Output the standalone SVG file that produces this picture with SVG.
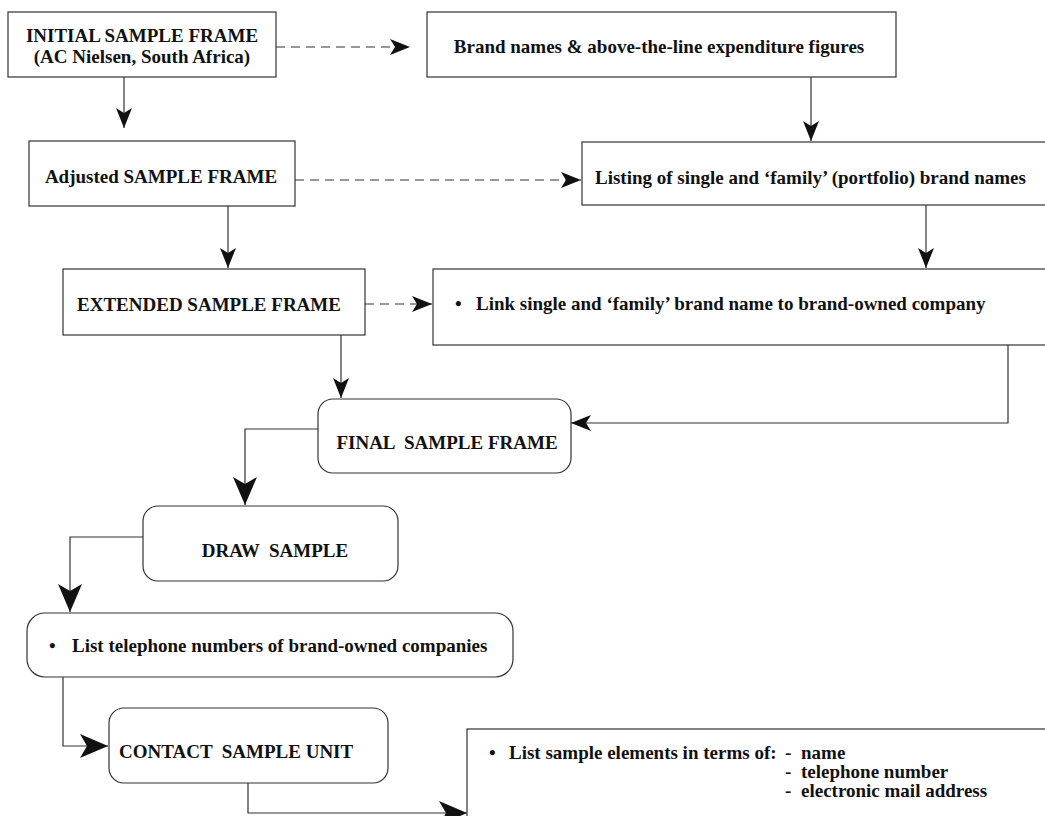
<svg xmlns="http://www.w3.org/2000/svg" width="1045" height="816" viewBox="0 0 1045 816">
  <defs>
    <marker id="arrowM" markerUnits="userSpaceOnUse" viewBox="0 0 20 16" markerWidth="20" markerHeight="16" refX="20" refY="8" orient="auto">
      <path d="M0,0 L20,8 L0,16 L5,8 Z" fill="#111"/>
    </marker>
    <marker id="arrowL" markerUnits="userSpaceOnUse" viewBox="0 0 28 24" markerWidth="28" markerHeight="24" refX="28" refY="12" orient="auto">
      <path d="M0,0 L28,12 L0,24 L7,12 Z" fill="#111"/>
    </marker>
    <style>
      .box { fill: #fff; stroke: #333; stroke-width: 1.2; }
      .lbl { font-family: "Liberation Serif", "Times New Roman", serif; font-size: 19px; font-weight: bold; fill: #111; }
      .mid { text-anchor: middle; }
      .edge { fill: none; stroke: #333; stroke-width: 1.2; }
      .dash { stroke-dasharray: 9 6; }
      .m { marker-end: url(#arrowM); }
      .l { marker-end: url(#arrowL); }
    </style>
  </defs>
  <rect width="1045" height="816" fill="#fff"/>

  <!-- connectors -->
  <g id="connectors">
    <path class="edge m" d="M124,77 V128"/>
    <path class="edge dash m" d="M276,47 H410"/>
    <path class="edge m" d="M811,77 V141"/>
    <path class="edge dash m" d="M295,180 H581"/>
    <path class="edge m" d="M228,206 V268"/>
    <path class="edge m" d="M926,205 V268"/>
    <path class="edge dash m" d="M365,304 H432"/>
    <path class="edge m" d="M341,335 V398"/>
    <path class="edge m" d="M1008,345 V423 H571"/>
    <path class="edge l" d="M318,429 H245 V505"/>
    <path class="edge l" d="M143,537 H70 V612"/>
    <path class="edge l" d="M63,677 V746 H108"/>
    <path class="edge l" d="M248,783 V813 H467"/>
  </g>

  <g id="initial-frame">
    <rect class="box" x="8" y="12" width="268" height="65"/>
    <text class="lbl mid" x="142" y="42">INITIAL SAMPLE FRAME</text>
    <text class="lbl mid" x="142" y="63">(AC Nielsen, South Africa)</text>
  </g>

  <g id="brand-figures">
    <rect class="box" x="427" y="12" width="469" height="65"/>
    <text class="lbl mid" x="659" y="53">Brand names &amp; above-the-line expenditure figures</text>
  </g>

  <g id="adjusted-frame">
    <rect class="box" x="29" y="141" width="266" height="65"/>
    <text class="lbl mid" x="161" y="183">Adjusted SAMPLE FRAME</text>
  </g>

  <g id="brand-listing">
    <rect class="box" x="582" y="142" width="470" height="63"/>
    <text class="lbl" x="595" y="184">Listing of single and ‘family’ (portfolio) brand names</text>
  </g>

  <g id="extended-frame">
    <rect class="box" x="63" y="269" width="302" height="66"/>
    <text class="lbl mid" x="209" y="311">EXTENDED SAMPLE FRAME</text>
  </g>

  <g id="link-company">
    <rect class="box" x="433" y="269" width="620" height="76"/>
    <text class="lbl" x="455" y="310">•</text>
    <text class="lbl" x="476" y="310">Link single and ‘family’ brand name to brand-owned company</text>
  </g>

  <g id="final-frame">
    <rect class="box" x="318" y="399" width="253" height="74" rx="15"/>
    <text class="lbl mid" x="447" y="449" xml:space="preserve">FINAL  SAMPLE FRAME</text>
  </g>

  <g id="draw-sample">
    <rect class="box" x="143" y="506" width="255" height="75" rx="15"/>
    <text class="lbl mid" x="275" y="557" xml:space="preserve">DRAW  SAMPLE</text>
  </g>

  <g id="telephone-list">
    <rect class="box" x="27" y="613" width="486" height="64" rx="18"/>
    <text class="lbl" x="49" y="652">•</text>
    <text class="lbl" x="72" y="652">List telephone numbers of brand-owned companies</text>
  </g>

  <g id="contact-unit">
    <rect class="box" x="109" y="708" width="279" height="75" rx="15"/>
    <text class="lbl" x="119" y="758" xml:space="preserve">CONTACT  SAMPLE UNIT</text>
  </g>

  <g id="sample-elements">
    <rect class="box" x="467" y="729" width="600" height="100"/>
    <text class="lbl" x="489" y="759">•</text>
    <text class="lbl" x="509" y="759">List sample elements in terms of:</text>
    <text class="lbl" x="785" y="759">-</text>
    <text class="lbl" x="785" y="778">-</text>
    <text class="lbl" x="785" y="797">-</text>
    <text class="lbl" x="801" y="759">name</text>
    <text class="lbl" x="801" y="778">telephone number</text>
    <text class="lbl" x="801" y="797">electronic mail address</text>
  </g>
</svg>
